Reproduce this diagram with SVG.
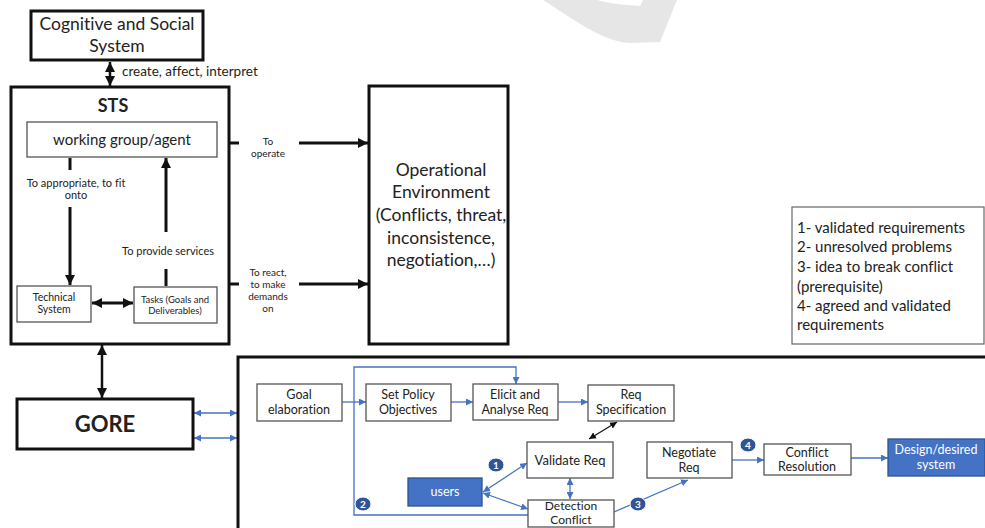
<svg xmlns="http://www.w3.org/2000/svg" width="985" height="528" viewBox="0 0 985 528">
<style>
text{font-family:Lato,"Open Sans","Liberation Sans",sans-serif;fill:#222;text-anchor:middle;font-variant-ligatures:none}
.thick{fill:#fff;stroke:#111;stroke-width:3}
.thin{fill:#fff;stroke:#555;stroke-width:1.3}
.blk{stroke:#111;stroke-width:3;fill:none}
.blu{stroke:#4472C4;stroke-width:1.3;fill:none}
.bfill{fill:#4472C4;stroke:#2F528F;stroke-width:1.3}
.num{fill:#2F5597;stroke:#fff;stroke-width:1}
</style>
<defs>
<marker id="ak" markerUnits="userSpaceOnUse" markerWidth="10" markerHeight="10" viewBox="0 0 10 10" refX="10" refY="5" orient="auto-start-reverse"><path d="M0,0 L10,5 L0,10 Z" fill="#111"/></marker>
<marker id="ab" markerUnits="userSpaceOnUse" markerWidth="7" markerHeight="7" viewBox="0 0 10 10" refX="10" refY="5" orient="auto-start-reverse"><path d="M0,0 L10,5 L0,10 Z" fill="#4472C4"/></marker>
<marker id="ad" markerUnits="userSpaceOnUse" markerWidth="7" markerHeight="7" viewBox="0 0 10 10" refX="10" refY="5" orient="auto-start-reverse"><path d="M0,0 L10,5 L0,10 Z" fill="#111"/></marker>
</defs>
<rect width="985" height="528" fill="#fff"/>
<path d="M543 0 C575 20 600 40 628 43 L660 42 L677 0 L643 0 L640 6 C622 5 607 3 597 0 Z" fill="#e6e6e6"/>

<g id="connectors">
<line class="blk" x1="110" y1="62" x2="110" y2="86" marker-start="url(#ak)" marker-end="url(#ak)" style="stroke-width:2.5"/>
<line class="blk" x1="70" y1="158" x2="70" y2="170"/>
<line class="blk" x1="70" y1="207" x2="70" y2="285" marker-end="url(#ak)"/>
<line class="blk" x1="166" y1="286" x2="166" y2="269"/>
<line class="blk" x1="166" y1="232" x2="166" y2="158" marker-end="url(#ak)"/>
<line class="blk" x1="92" y1="303" x2="133" y2="303" marker-start="url(#ak)" marker-end="url(#ak)"/>
<line class="blk" x1="229" y1="143" x2="239" y2="143"/>
<line class="blk" x1="299" y1="143" x2="368" y2="143" marker-end="url(#ak)"/>
<line class="blk" x1="229" y1="284" x2="239" y2="284"/>
<line class="blk" x1="299" y1="284" x2="368" y2="284" marker-end="url(#ak)"/>
<line class="blk" x1="102" y1="345" x2="102" y2="398" marker-start="url(#ak)" marker-end="url(#ak)" style="stroke-width:2.5"/>
<line class="blu" x1="194" y1="413" x2="237" y2="413" marker-start="url(#ab)" marker-end="url(#ab)"/>
<line class="blu" x1="194" y1="438" x2="237" y2="438" marker-start="url(#ab)" marker-end="url(#ab)"/>
<line class="blu" x1="342" y1="402" x2="366" y2="402" marker-end="url(#ab)"/>
<line class="blu" x1="451" y1="402" x2="473" y2="402" marker-end="url(#ab)"/>
<line class="blu" x1="558" y1="402" x2="588" y2="402" marker-end="url(#ab)"/>
<polyline class="blu" points="528,515 354,515 354,367 516,367 516,384" marker-end="url(#ab)"/>
<line class="blu" x1="483" y1="492" x2="527" y2="463" marker-start="url(#ab)" marker-end="url(#ab)"/>
<line class="blu" x1="483" y1="493" x2="528" y2="509" marker-start="url(#ab)" marker-end="url(#ab)"/>
<line class="blu" x1="570" y1="478" x2="570" y2="499" marker-start="url(#ab)" marker-end="url(#ab)"/>
<line x1="617" y1="422" x2="589" y2="439" stroke="#111" stroke-width="1.2" marker-start="url(#ad)" marker-end="url(#ad)"/>
<line class="blu" x1="614" y1="512" x2="688" y2="480" marker-end="url(#ab)"/>
<line class="blu" x1="732" y1="460" x2="764" y2="460" marker-end="url(#ab)"/>
<line class="blu" x1="851" y1="458" x2="888" y2="458" marker-end="url(#ab)"/>
<text x="122" y="76" style="text-anchor:start;font-size:13.5px">create, affect, interpret</text>
<text x="76" y="187" style="font-size:11px">To appropriate, to fit</text>
<text x="76" y="199" style="font-size:11px">onto</text>
<text x="168" y="255" style="font-size:11px">To provide services</text>
<text x="268" y="145" style="font-size:10px">To</text>
<text x="268" y="157" style="font-size:10px">operate</text>
<text x="268" y="276" style="font-size:10px">To react,</text>
<text x="268" y="288" style="font-size:10px">to make</text>
<text x="268" y="300" style="font-size:10px">demands</text>
<text x="268" y="312" style="font-size:10px">on</text>
</g>

<g id="cognitive"><rect class="thick" x="31" y="11" width="172" height="49"/>
<text x="117" y="30" style="font-size:17.5px">Cognitive and Social</text>
<text x="117" y="52" style="font-size:17.5px">System</text></g>

<g id="sts"><rect class="thick" x="11" y="87" width="218" height="257" style="fill:none"/>
<text x="113" y="112" style="font-size:18px;font-weight:bold">STS</text></g>

<g id="working-group"><rect class="thin" x="27" y="122" width="190" height="35"/>
<text x="122" y="145" style="font-size:15px">working group/agent</text></g>

<g id="technical-system"><rect class="thin" x="17" y="286" width="74" height="36"/>
<text x="54" y="301" style="font-size:10.5px">Technical</text>
<text x="54" y="313" style="font-size:10.5px">System</text></g>

<g id="tasks"><rect class="thin" x="134" y="287" width="83" height="36"/>
<text x="175" y="303" style="font-size:9.5px">Tasks (Goals and</text>
<text x="175" y="314" style="font-size:9.5px">Deliverables)</text></g>

<g id="operational-environment"><rect class="thick" x="369" y="86" width="139" height="258"/>
<text x="441" y="176" style="font-size:17.5px">Operational</text>
<text x="441" y="198" style="font-size:17.5px">Environment</text>
<text x="441" y="221" style="font-size:17.5px">(Conflicts, threat,</text>
<text x="441" y="244" style="font-size:17.5px">inconsistence,</text>
<text x="441" y="266" style="font-size:17.5px">negotiation,…)</text></g>

<g id="legend"><rect x="792" y="207" width="192" height="137" fill="#fff" stroke="#666" stroke-width="1.2"/>
<g style="font-size:15px">
<text x="797" y="233" style="text-anchor:start;font-size:15px">1- validated requirements</text>
<text x="797" y="252" style="text-anchor:start;font-size:15px">2- unresolved problems</text>
<text x="797" y="272" style="text-anchor:start;font-size:15px">3- idea to break conflict</text>
<text x="797" y="292" style="text-anchor:start;font-size:15px">(prerequisite)</text>
<text x="797" y="311" style="text-anchor:start;font-size:15px">4- agreed and validated</text>
<text x="797" y="330" style="text-anchor:start;font-size:15px">requirements</text></g></g>

<g id="gore"><rect class="thick" x="17" y="399" width="176" height="50"/>
<text x="105" y="432" style="font-size:22px;font-weight:bold">GORE</text></g>

<g id="gore-process"><path d="M238 528 L238 357 L990 357" fill="none" stroke="#111" stroke-width="3"/></g>

<g id="goal-elaboration"><rect class="thin" x="257" y="384" width="85" height="37"/>
<text x="299" y="399" style="font-size:12.5px">Goal</text>
<text x="299" y="414" style="font-size:12.5px">elaboration</text></g>

<g id="set-policy"><rect class="thin" x="366" y="384" width="85" height="37"/>
<text x="408" y="399" style="font-size:12.5px">Set Policy</text>
<text x="408" y="414" style="font-size:12.5px">Objectives</text></g>

<g id="elicit"><rect class="thin" x="473" y="384" width="85" height="36"/>
<text x="515" y="399" style="font-size:12.5px">Elicit and</text>
<text x="515" y="414" style="font-size:12.5px">Analyse Req</text></g>

<g id="req-spec"><rect class="thin" x="588" y="385" width="86" height="36"/>
<text x="631" y="399" style="font-size:12.5px">Req</text>
<text x="631" y="414" style="font-size:12.5px">Specification</text></g>

<g id="validate"><rect class="thin" x="527" y="442" width="86" height="36"/>
<text x="570" y="465" style="font-size:13px">Validate Req</text></g>

<g id="detection"><rect class="thin" x="528" y="500" width="86" height="27"/>
<text x="571" y="510" style="font-size:12px">Detection</text>
<text x="571" y="524" style="font-size:12px">Conflict</text></g>

<g id="users"><rect class="bfill" x="408" y="478" width="74" height="28"/>
<text x="445" y="496" style="font-size:12.5px;fill:#fff">users</text></g>

<g id="negotiate"><rect class="thin" x="647" y="442" width="85" height="36"/>
<text x="689" y="457" style="font-size:12.5px">Negotiate</text>
<text x="689" y="472" style="font-size:12.5px">Req</text></g>

<g id="conflict-resolution"><rect class="thin" x="764" y="444" width="87" height="31"/>
<text x="807" y="457" style="font-size:12.5px">Conflict</text>
<text x="807" y="471" style="font-size:12.5px">Resolution</text></g>

<g id="design"><rect class="bfill" x="888" y="439" width="97" height="37"/>
<text x="936" y="454" style="font-size:12.5px;fill:#fff">Design/desired</text>
<text x="936" y="469" style="font-size:12.5px;fill:#fff">system</text></g>

<g id="badges">
<ellipse class="num" cx="496" cy="465" rx="8" ry="7"/><text x="496" y="469" style="fill:#fff;font-size:10px;font-weight:bold">1</text>
<ellipse class="num" cx="363" cy="504" rx="8" ry="7"/><text x="363" y="508" style="fill:#fff;font-size:10px;font-weight:bold">2</text>
<ellipse class="num" cx="638" cy="504" rx="8" ry="7"/><text x="638" y="508" style="fill:#fff;font-size:10px;font-weight:bold">3</text>
<ellipse class="num" cx="748" cy="445" rx="8" ry="7"/><text x="748" y="449" style="fill:#fff;font-size:10px;font-weight:bold">4</text>
</g>
</svg>
